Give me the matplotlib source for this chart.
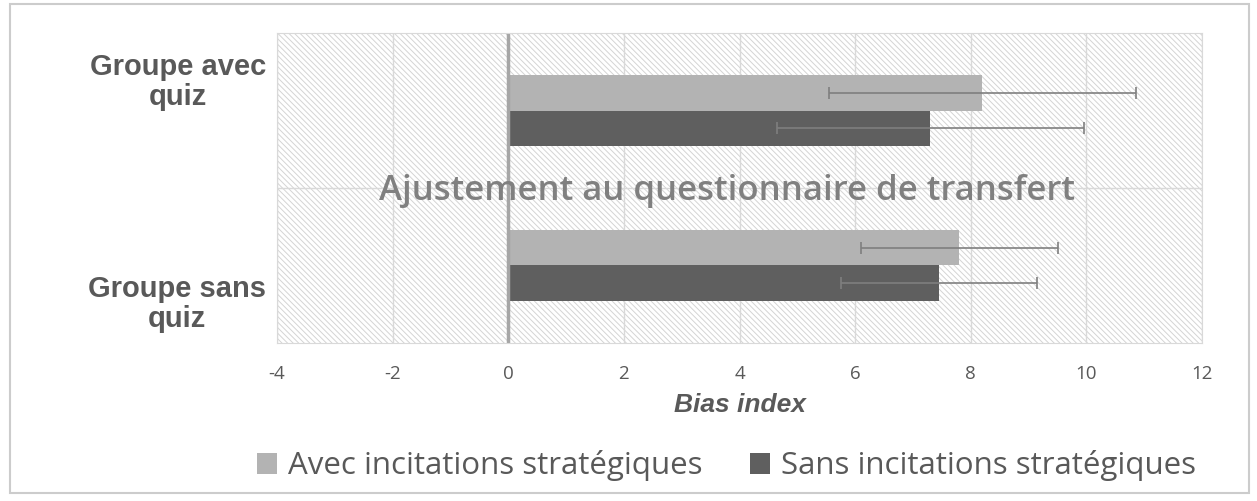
import matplotlib
matplotlib.use("Agg")
import matplotlib.pyplot as plt
from matplotlib.patches import Rectangle

groups = ["Groupe sans\nquiz", "Groupe avec\nquiz"]
avec = [7.8, 8.2]
sans = [7.45, 7.3]
avec_err = [1.7, 2.65]
sans_err = [1.7, 2.65]
xticks = [-4, -2, 0, 2, 4, 6, 8, 10, 12]

light = "#b3b3b3"
dark = "#5f5f5f"
grid_c = "#d9d9d9"
text_c = "#595959"

plt.rcParams["hatch.color"] = "#d4d4d4"
plt.rcParams["hatch.linewidth"] = 0.7

fig = plt.figure(figsize=(12.57, 5.01), dpi=100)
fig.patches.append(Rectangle((0.008, 0.016), 0.9857, 0.976, transform=fig.transFigure,
                             fill=False, edgecolor="#cccccc", lw=1.5))
ax = fig.add_axes([0.2204, 0.3154, 0.7359, 0.6187])

# hatched plot area
ax.add_patch(Rectangle((0, 0), 1, 1, transform=ax.transAxes, facecolor="white",
                       edgecolor="#d4d4d4", hatch="\\" * 6, lw=0, zorder=0))

pos = [0, 1]
h = 0.232
ax.barh([p + h / 2 for p in pos], avec, height=h, color=light, zorder=2,
        label="Avec incitations stratégiques")
ax.barh([p - h / 2 for p in pos], sans, height=h, color=dark, zorder=2,
        label="Sans incitations stratégiques")
ax.errorbar(avec, [p + h / 2 for p in pos], xerr=avec_err, fmt="none",
            ecolor="#7f7f7f", elinewidth=1.2, capsize=4, capthick=1.2, zorder=3)
ax.errorbar(sans, [p - h / 2 for p in pos], xerr=sans_err, fmt="none",
            ecolor="#7f7f7f", elinewidth=1.2, capsize=4, capthick=1.2, zorder=3)
ax.axvline(0, color="#a6a6a6", lw=2.5, zorder=2.5)

ax.set_xlim(-4, 12)
ax.set_ylim(-0.5, 1.5)
ax.set_xticks(xticks)
ax.set_xticklabels([str(t) for t in xticks], family="Open Sans", fontsize=13.5, color=text_c)
ax.set_yticks([-0.22, 1.21])
ax.set_yticklabels(groups, family="Liberation Sans", fontweight="bold", fontsize=21,
                   color=text_c, multialignment="center", linespacing=1.1)
ax.set_yticks([0.5], minor=True)
ax.tick_params(axis="both", which="both", length=0)
ax.tick_params(axis="x", pad=16)
ax.tick_params(axis="y", pad=8)
ax.grid(axis="x", color=grid_c, lw=1, zorder=1)
ax.grid(axis="y", which="minor", color=grid_c, lw=1, zorder=1)
ax.set_axisbelow(True)
for s in ax.spines.values():
    s.set_color(grid_c)

ax.text(0.486, 0.461, "Ajustement au questionnaire de transfert", transform=ax.transAxes,
        ha="center", va="baseline", family="Open Sans", fontweight="semibold",
        fontsize=25, color="#808080", zorder=4)

ax.set_xlabel("Bias index", family="Liberation Sans", fontweight="bold", style="italic",
              fontsize=19, color=text_c, labelpad=7)

fig.legend(loc="center", bbox_to_anchor=(0.578, 0.070), ncol=2, frameon=False,
           prop={"family": "Open Sans", "size": 22.5}, labelcolor=text_c,
           handlelength=0.65, handleheight=0.65, handletextpad=0.35, columnspacing=1.5)

fig.savefig("out.png", dpi=100)
